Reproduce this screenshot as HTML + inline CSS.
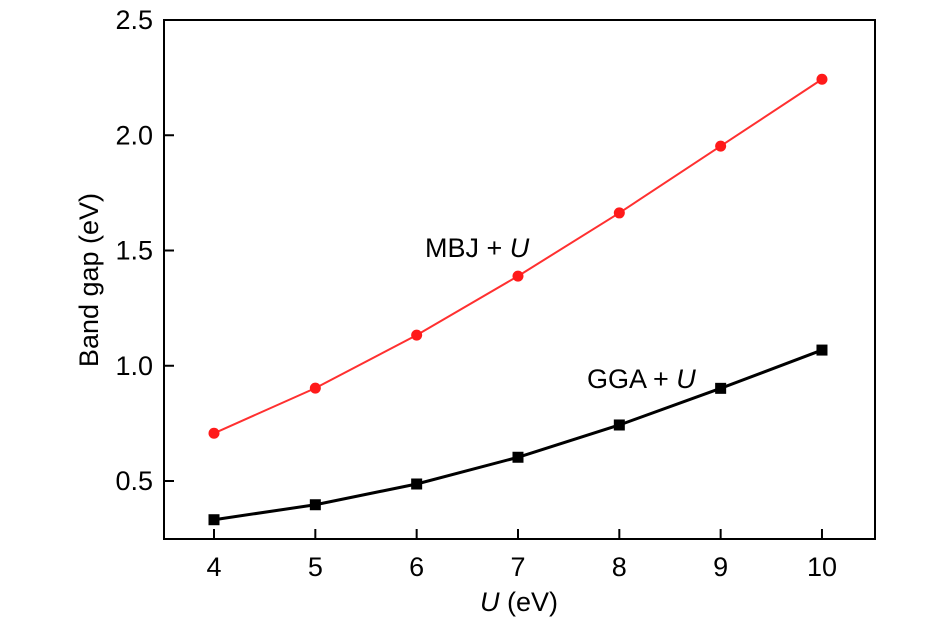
<!DOCTYPE html>
<html><head><meta charset="utf-8"><style>
body{margin:0;background:#fff;}
text{font-family:"Liberation Sans","DejaVu Sans",sans-serif;}
</style></head><body>
<svg id="chart" width="945" height="620" xmlns="http://www.w3.org/2000/svg">
<rect x="164" y="20" width="711" height="519" fill="none" stroke="#000" stroke-width="2"/>
<g id="axes"></g>
<g id="series"></g>
<text x="425" y="257" font-size="27" fill="#000">MBJ + <tspan font-style="italic">U</tspan></text>
<text x="587" y="388" font-size="27" fill="#000">GGA + <tspan font-style="italic">U</tspan></text>
<text x="519" y="611" font-size="27" text-anchor="middle"><tspan font-style="italic">U</tspan> (eV)</text>
<text transform="translate(98,280) rotate(-90)" font-size="27" text-anchor="middle">Band gap (eV)</text>
</svg>
<script>
const xValues=[4,5,6,7,8,9,10];
const mbjValues=[0.707,0.903,1.133,1.389,1.663,1.953,2.243];
const ggaValues=[0.332,0.397,0.487,0.603,0.743,0.902,1.068];
const xTicks=[4,5,6,7,8,9,10];
const yTicks=[0.5,1.0,1.5,2.0,2.5];
const yTickLabels=["0.5","1.0","1.5","2.0","2.5"];
const NS="http://www.w3.org/2000/svg";
function xs(v){return 214+(v-4)*101.33;}
function ys(v){return 481-(v-0.5)*230.5;}
function mk(tag,attrs,parent){const e=document.createElementNS(NS,tag);for(const k in attrs)e.setAttribute(k,attrs[k]);parent.appendChild(e);return e;}
const axes=document.getElementById('axes');
xTicks.forEach(t=>{
  const l=mk('line',{x1:xs(t),x2:xs(t),y1:539,y2:529,stroke:'#000','stroke-width':2},axes);
  
  
  const tx=mk('text',{x:xs(t),y:576,'font-size':27,'text-anchor':'middle'},axes);
  tx.textContent=t;
  
  
});
yTicks.forEach((t,i)=>{
  const l=mk('line',{x1:164,x2:174,y1:ys(t),y2:ys(t),stroke:'#000','stroke-width':2},axes);
  
  
  const tx=mk('text',{x:153,y:ys(t)+9,'font-size':27,'text-anchor':'end'},axes);
  tx.textContent=yTickLabels[i];
  
  
});
const g=document.getElementById('series');
const mbjLine=mk('polyline',{points:xValues.map((x,i)=>xs(x)+','+ys(mbjValues[i])).join(' '),fill:'none',stroke:'#ff3030','stroke-width':2},g);


const ggaLine=mk('polyline',{points:xValues.map((x,i)=>xs(x)+','+ys(ggaValues[i])).join(' '),fill:'none',stroke:'#000','stroke-width':3},g);


xValues.forEach((x,i)=>{
  const c=mk('circle',{cx:xs(x),cy:ys(mbjValues[i]),r:5.5,fill:'#ff1a1a'},g);
  
  
  const r=mk('rect',{x:xs(x)-5.5,y:ys(ggaValues[i])-5.5,width:11,height:11,fill:'#000'},g);
  
  
});
</script>
</body></html>
